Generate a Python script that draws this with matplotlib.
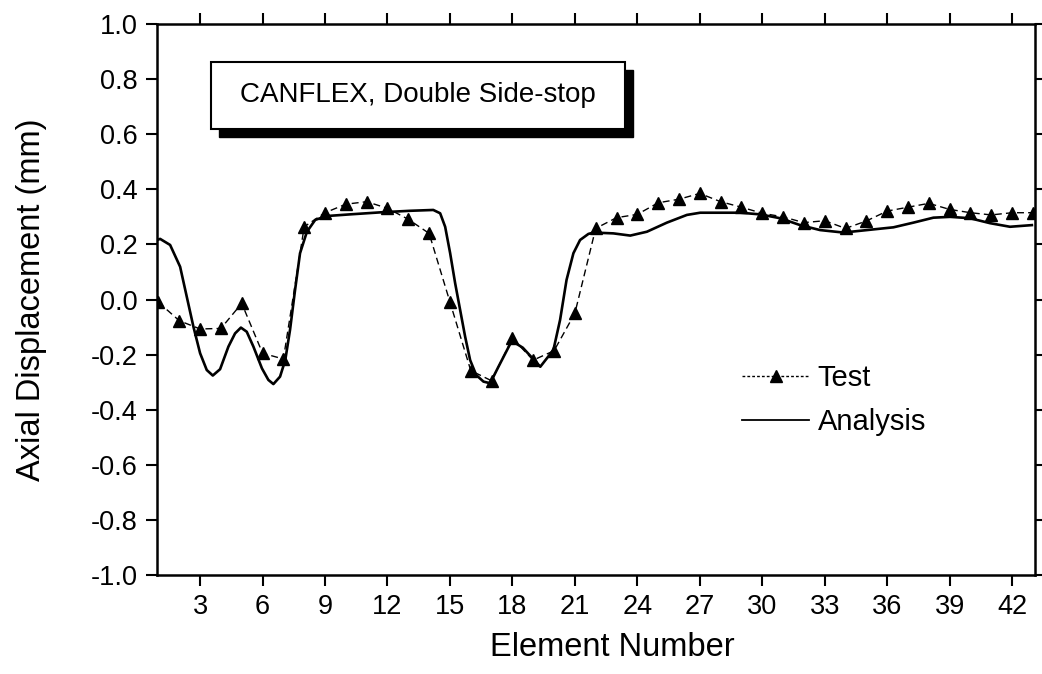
import matplotlib
matplotlib.use("Agg")
import matplotlib.pyplot as plt
from matplotlib.patches import Rectangle
from matplotlib.lines import Line2D

plt.rcParams['font.family'] = ['Liberation Sans', 'DejaVu Sans']

# Test data (element number 1..43)
test_x = list(range(1, 44))
test_y = [-0.01, -0.077, -0.107, -0.105, -0.014, -0.195, -0.216, 0.264, 0.315, 0.346,
          0.355, 0.331, 0.291, 0.240, -0.009, -0.258, -0.295, -0.141, -0.220, -0.186,
          -0.050, 0.258, 0.297, 0.309, 0.351, 0.364, 0.385, 0.355, 0.335, 0.313,
          0.300, 0.279, 0.286, 0.258, 0.285, 0.321, 0.335, 0.349, 0.327, 0.315,
          0.307, 0.315, 0.315]

# Analysis curve
ana_x = [0.94, 1.08, 1.56, 2.04, 2.36, 2.68, 3.0, 3.32, 3.61, 3.96, 4.36, 4.68, 4.96,
         5.24, 5.56, 5.97, 6.28, 6.52, 6.84, 7.09, 7.32, 7.56, 7.8, 8.13, 8.53, 9.09,
         10.2, 11.8, 13.09, 14.2, 14.53, 14.77, 15.01, 15.25, 15.49, 15.73, 15.97,
         16.26, 16.61, 16.93, 17.33, 17.97, 18.5, 19.34, 19.97, 20.29, 20.6, 20.93,
         21.25, 21.65, 21.89, 22.85, 23.66, 24.46, 25.42, 26.38, 27.02, 27.98, 28.94,
         29.9, 30.86, 31.82, 32.78, 33.9, 35.03, 36.3, 37.26, 38.22, 39.02, 39.98,
         40.94, 41.9, 42.95]
ana_y = [0.216, 0.220, 0.198, 0.119, 0.010, -0.099, -0.195, -0.256, -0.276, -0.253,
         -0.171, -0.123, -0.102, -0.117, -0.171, -0.250, -0.292, -0.307, -0.280, -0.220,
         -0.110, 0.034, 0.168, 0.246, 0.289, 0.303, 0.309, 0.317, 0.322, 0.325, 0.313,
         0.264, 0.168, 0.059, -0.038, -0.135, -0.220, -0.274, -0.298, -0.304, -0.244,
         -0.150, -0.175, -0.244, -0.183, -0.074, 0.071, 0.168, 0.216, 0.238, 0.243,
         0.240, 0.232, 0.246, 0.279, 0.307, 0.315, 0.315, 0.315, 0.309, 0.295, 0.270,
         0.252, 0.243, 0.252, 0.262, 0.279, 0.297, 0.300, 0.295, 0.277, 0.264, 0.270]

x_ticks = list(range(3, 43, 3))
y_ticks = [-1.0, -0.8, -0.6, -0.4, -0.2, 0.0, 0.2, 0.4, 0.6, 0.8, 1.0]

fig = plt.figure(figsize=(10.42, 6.74), dpi=100)
ax = fig.add_axes([157/1042, 1 - 575/674, (1035-157)/1042, (575-24)/674])

ax.plot(ana_x, ana_y, color='black', lw=1.9, label='Analysis', zorder=3,
        solid_joinstyle='round')
ax.plot(test_x, test_y, color='black', lw=1.0, ls=(0, (5, 3)), marker='^',
        markersize=9, label='Test', zorder=4)

ax.set_xlim(0.93, 43.1)
ax.set_ylim(-1.0, 1.0)
ax.set_xticks(x_ticks)
ax.set_yticks(y_ticks)
ax.set_yticklabels([f"{v:.1f}" for v in y_ticks])
ax.tick_params(axis='both', which='major', direction='out', length=8, width=1.5,
               labelsize=19.5, pad=6, top=True, right=True)
for s in ax.spines.values():
    s.set_linewidth(1.8)

ax.set_xlabel('Element Number', fontsize=23.5)
ax.set_ylabel('Axial Displacement (mm)', fontsize=23.5)
ax.xaxis.set_label_coords((612-157)/878, (575-648)/551)
ax.yaxis.set_label_coords((32-157)/878, 0.5)
ax.xaxis.label.set_va('center')
ax.yaxis.label.set_va('center')

# Title box with shadow
bx0, by0 = (211-157)/878, (575-129)/551
bw, bh = (625-211)/878, (129-62)/551
dx, dy = 8/878, 8/551
ax.add_patch(Rectangle((bx0+dx, by0-dy), bw, bh, transform=ax.transAxes,
                       facecolor='black', edgecolor='black', zorder=5))
ax.add_patch(Rectangle((bx0, by0), bw, bh, transform=ax.transAxes,
                       facecolor='white', edgecolor='black', lw=1.5, zorder=6))
ax.text(bx0 + bw/2, by0 + bh/2, 'CANFLEX, Double Side-stop', transform=ax.transAxes,
        ha='center', va='center', fontsize=20, zorder=7)

handles = [Line2D([], [], color='black', lw=1.0, ls=(0, (2, 1.5)), marker='^', markersize=8),
           Line2D([], [], color='black', lw=1.3)]
ax.legend(handles, ['Test', 'Analysis'], loc='center left',
          bbox_to_anchor=((742-157)/878, (575-400)/551), frameon=False,
          fontsize=21, handlelength=2.3, handletextpad=0.3, labelspacing=0.55,
          borderpad=0, borderaxespad=0, markerfirst=True)

fig.savefig('out.png', dpi=100)
